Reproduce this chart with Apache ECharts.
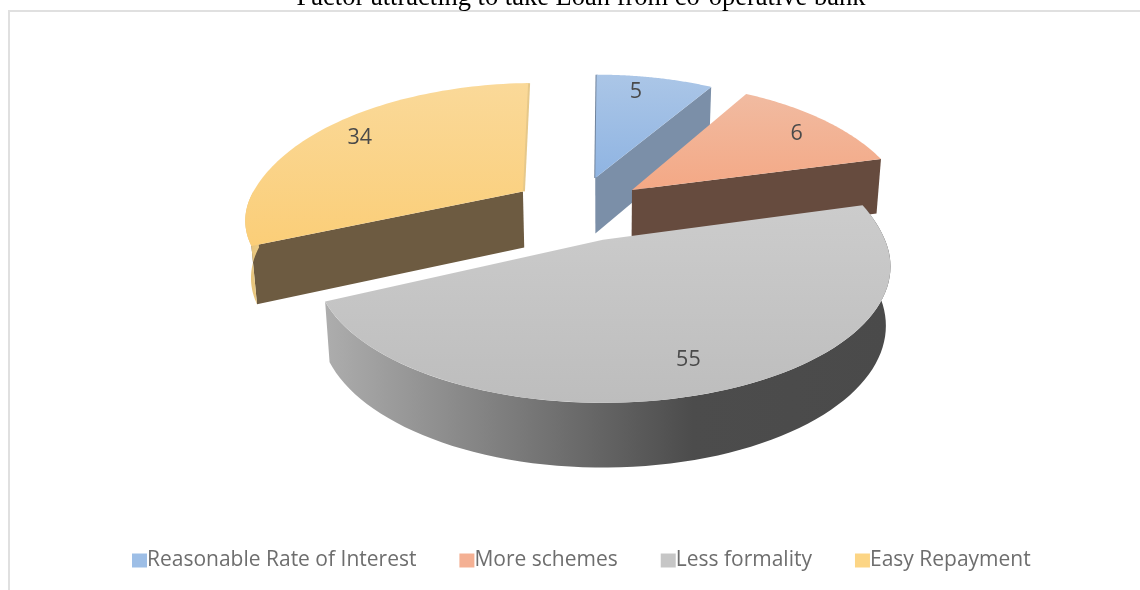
<!DOCTYPE html>
<html>
<head>
<meta charset="utf-8">
<style>html,body{margin:0;padding:0;background:#fff}#chart{width:1140px;height:590px}</style>
<script src="https://cdn.jsdelivr.net/npm/echarts@6/dist/echarts.min.js"></script>
</head>
<body>
<div id="chart"></div>
<script>
const chartTitle = 'Factor attracting to take Loan from co-operative bank';
const factors = ['Reasonable Rate of Interest', 'More schemes', 'Less formality', 'Easy Repayment'];
const responses = [5, 6, 55, 34];

// Flat colour of each factor, used by the legend.
const legendColors = ['#9DBEE6', '#F4B093', '#C6C6C6', '#FCD585'];
const topGradients = [
  ['#ABC6E7', '#8FB4E2'], ['#F1BBA1', '#F4A885'], ['#CCCCCC', '#BDBDBD'], ['#FAD999', '#FBCE78']
];
const cutFaceColors = ['#7B8FA8', '#664B3E', '#888888', '#6D5B41'];
const wallStops = [
  [[0, '#8fa3bc'], [1, '#8fa3bc']],
  [[0, '#8a6a58'], [1, '#8a6a58']],
  [[0, '#ADADAD'], [0.65, '#4C4C4C'], [1, '#4A4A4A']],
  [[0, '#E3BE72'], [1, '#EBCB86']]
].map(stops => stops.map(([offset, color]) => ({ offset, color })));

// Disc-plane offset of each exploded slice (right, towards viewer).
const slicePull = [[-0.03, -0.5], [0.11, -0.393], [0, 0.014], [-0.303, -0.38]];
// Radius of each slice relative to the disc.
const sliceRadius = [1.01, 1.03, 0.99, 1.02];
// Draw order: far slices first, the large front slice last.
const sliceLayer = [1, 2, 4, 3];
// Small shift of each value label around its slice, in degrees.
const labelShift = [-3, 1, 2.5, 5];

// Tilted-disc view: share angle to on-disc angle, the far side opens up under tilt.
const viewStops = [[0, 0], [18, 28], [39.6, 74], [237.6, 244.5], [360, 358]];
const view = { cx: 603, cy: 238, a: 284, b: 131.7, k: 0.197, depth: 58, narrow: 0.984 };

function discAngle(share) {
  for (let i = 1; i < viewStops.length; i++) {
    const [s0, d0] = viewStops[i - 1], [s1, d1] = viewStops[i];
    if (share <= s1) return d0 + (d1 - d0) * (share - s0) / (s1 - s0);
  }
  return viewStops[viewStops.length - 1][1];
}

function project(U, V, lower) {
  const w = 1 - view.k * V;
  let x = view.cx + view.a * U / w;
  let y = view.cy + view.b * V / w;
  if (lower) {
    x = view.cx + (x - view.cx) * view.narrow;
    y += view.depth / Math.sqrt(w);
  }
  return [x, y];
}

function rimPoint(index, deg, scale, lower) {
  const t = deg * Math.PI / 180;
  const c = Math.max(0, Math.cos(t));
  const r = (1 + 0.13 * c * c) * scale * sliceRadius[index];
  const [u0, v0] = slicePull[index];
  return project(u0 + r * Math.sin(t), v0 - r * Math.cos(t), lower);
}

function cutFace(index, deg, fill) {
  const [u0, v0] = slicePull[index];
  return {
    type: 'polygon',
    shape: { points: [project(u0, v0), rimPoint(index, deg, 1), rimPoint(index, deg, 1, true), project(u0, v0, true)] },
    style: { fill }
  };
}

function edgeLine(index, deg, stroke, lineWidth) {
  return {
    type: 'polyline',
    shape: { points: [project(slicePull[index][0], slicePull[index][1]), rimPoint(index, deg, 1)] },
    style: { stroke, lineWidth, fill: null }
  };
}

function sliceShape(index, value) {
  const before = responses.slice(0, index).reduce((s, v) => s + v, 0);
  const total = responses.reduce((s, v) => s + v, 0);
  const start = discAngle(before / total * 360);
  const end = discAngle((before + value) / total * 360);
  const children = [];

  // Side faces first, top surface last.
  if (start > 180) children.push(cutFace(index, start, cutFaceColors[index]));
  if (end < 180) children.push(cutFace(index, end, cutFaceColors[index]));
  if (start < 1) children.push(edgeLine(index, start, '#6F829B', 2));
  if (end > 340) children.push(edgeLine(index, end, '#E6C88A', 4));

  const wallFrom = Math.max(start, 76), wallTo = Math.min(end, 270);
  if (wallTo > wallFrom) {
    const upper = [], lower = [];
    for (let i = 0; i <= 80; i++) {
      const d = wallFrom + (wallTo - wallFrom) * i / 80;
      upper.push(rimPoint(index, d, 1));
      lower.unshift(rimPoint(index, d, 1, true));
    }
    children.push({
      type: 'polygon',
      shape: { points: upper.concat(lower) },
      style: { fill: new echarts.graphic.LinearGradient(0, 0, 1, 0, wallStops[index]) }
    });
  }

  const rim = [project(slicePull[index][0], slicePull[index][1])];
  for (let i = 0; i <= 80; i++) rim.push(rimPoint(index, start + (end - start) * i / 80, 1));
  children.push({
    type: 'polygon',
    shape: { points: rim },
    style: {
      fill: new echarts.graphic.LinearGradient(0, 0, 0, 1, [
        { offset: 0, color: topGradients[index][0] },
        { offset: 1, color: topGradients[index][1] }
      ])
    }
  });

  const at = rimPoint(index, (start + end) / 2 + labelShift[index], 0.82);
  children.push({
    type: 'text',
    style: {
      text: String(value), x: at[0], y: at[1], align: 'center', verticalAlign: 'middle',
      font: '21.5px "Open Sans"', fill: '#4A4A4A'
    }
  });
  return { type: 'group', children };
}

const chart = echarts.init(document.getElementById('chart'), null, { renderer: 'canvas' });
chart.setOption({
  animation: false,
  backgroundColor: '#ffffff',
  title: {
    text: chartTitle, left: 576, top: -20, textAlign: 'center',
    textStyle: { fontFamily: 'Liberation Serif', fontSize: 26.5, fontWeight: 'normal', color: '#000000' }
  },
  legend: {
    data: factors, left: 127, top: 545, icon: 'rect', itemWidth: 15, itemHeight: 14, itemGap: 43, textStyle: {
      fontFamily: 'Open Sans', fontSize: 21, color: '#6E6E6E', padding: [0, 0, 0, -5]
    }
  },
  graphic: [
    { type: 'polyline', silent: true, shape: { points: [[1140, 11], [9, 11], [9, 590]] }, style: { stroke: '#E0E0E0', lineWidth: 2, fill: null } }
  ],
  series: factors.map((name, i) => ({
    type: 'custom', name, coordinateSystem: 'none', z: sliceLayer[i], silent: true,
    itemStyle: { color: legendColors[i] },
    data: [[responses[i]]],
    renderItem: (params, api) => sliceShape(i, api.value(0))
  }))
});
</script>
</body>
</html>
